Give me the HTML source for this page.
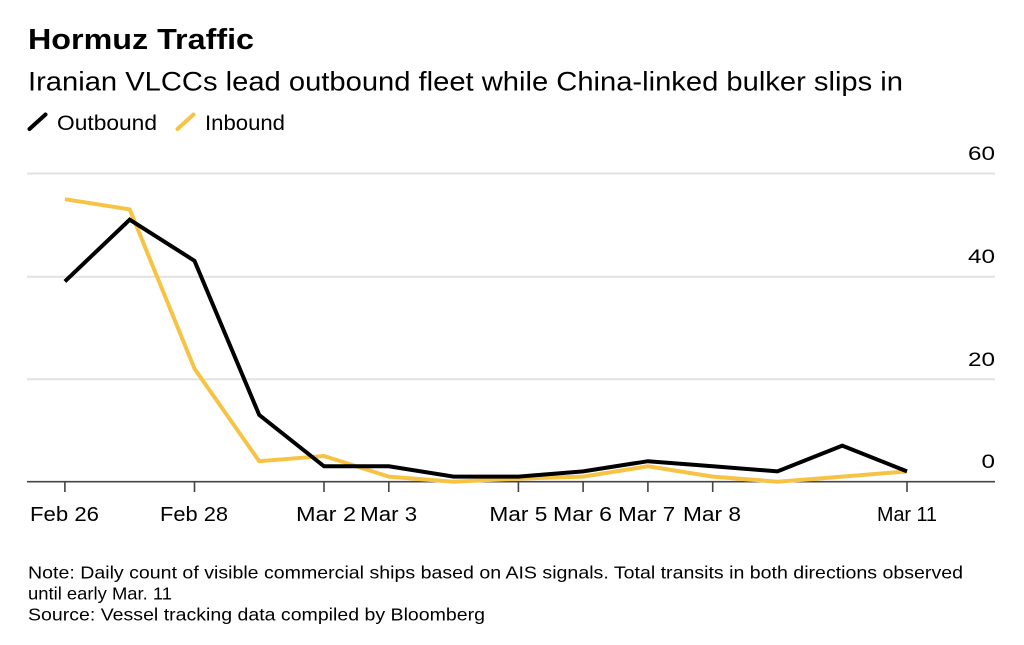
<!DOCTYPE html>
<html>
<head>
<meta charset="utf-8">
<style>
  html, body { margin: 0; padding: 0; background: #fff; }
  svg { display: block; }
  text { font-family: "Liberation Sans", "DejaVu Sans", sans-serif; fill: #000; }
</style>
</head>
<body>
<svg width="1024" height="645" viewBox="0 0 1024 645" xmlns="http://www.w3.org/2000/svg">
  <rect x="0" y="0" width="1024" height="645" fill="#fff"/>

  <!-- Title -->
  <text x="28" y="49" font-size="29" font-weight="bold" textLength="226" lengthAdjust="spacingAndGlyphs">Hormuz Traffic</text>
  <!-- Subtitle -->
  <text x="28" y="90.5" font-size="27" textLength="875" lengthAdjust="spacingAndGlyphs">Iranian VLCCs lead outbound fleet while China-linked bulker slips in</text>

  <!-- Legend -->
  <line x1="29.5" y1="129" x2="45.5" y2="114.5" stroke="#000" stroke-width="4" stroke-linecap="round"/>
  <text x="57" y="130" font-size="21" textLength="100" lengthAdjust="spacingAndGlyphs">Outbound</text>
  <line x1="177.5" y1="129" x2="193.5" y2="114.5" stroke="#f6c344" stroke-width="4" stroke-linecap="round"/>
  <text x="205" y="130" font-size="21" textLength="80" lengthAdjust="spacingAndGlyphs">Inbound</text>

  <!-- Gridlines -->
  <line x1="27" y1="173.5" x2="995" y2="173.5" stroke="#e2e2e2" stroke-width="2"/>
  <line x1="27" y1="276.7" x2="995" y2="276.7" stroke="#e2e2e2" stroke-width="2"/>
  <line x1="27" y1="379.3" x2="995" y2="379.3" stroke="#e2e2e2" stroke-width="2"/>

  <!-- Y labels -->
  <text x="995" y="160" font-size="19" text-anchor="end" textLength="27" lengthAdjust="spacingAndGlyphs">60</text>
  <text x="995" y="263" font-size="19" text-anchor="end" textLength="27" lengthAdjust="spacingAndGlyphs">40</text>
  <text x="995" y="366" font-size="19" text-anchor="end" textLength="27" lengthAdjust="spacingAndGlyphs">20</text>
  <text x="995" y="468" font-size="19" text-anchor="end" textLength="13.5" lengthAdjust="spacingAndGlyphs">0</text>

  <!-- Axis line -->
  <line x1="27" y1="481.7" x2="995" y2="481.7" stroke="#444" stroke-width="1.6"/>

  <!-- Ticks -->
  <g stroke="#444" stroke-width="1.6">
    <line x1="64.9" y1="482" x2="64.9" y2="492"/>
    <line x1="194.5" y1="482" x2="194.5" y2="492"/>
    <line x1="324.0" y1="482" x2="324.0" y2="492"/>
    <line x1="388.8" y1="482" x2="388.8" y2="492"/>
    <line x1="518.4" y1="482" x2="518.4" y2="492"/>
    <line x1="583.1" y1="482" x2="583.1" y2="492"/>
    <line x1="647.9" y1="482" x2="647.9" y2="492"/>
    <line x1="712.7" y1="482" x2="712.7" y2="492"/>
    <line x1="907.0" y1="482" x2="907.0" y2="492"/>
  </g>

  <!-- X labels -->
  <g font-size="20" text-anchor="middle">
    <text x="64.5" y="521" textLength="69" lengthAdjust="spacingAndGlyphs">Feb 26</text>
    <text x="194" y="521" textLength="68" lengthAdjust="spacingAndGlyphs">Feb 28</text>
    <text x="326" y="521" textLength="60" lengthAdjust="spacingAndGlyphs">Mar 2</text>
    <text x="388.7" y="521" textLength="57" lengthAdjust="spacingAndGlyphs">Mar 3</text>
    <text x="518.4" y="521" textLength="58" lengthAdjust="spacingAndGlyphs">Mar 5</text>
    <text x="582.5" y="521" textLength="59" lengthAdjust="spacingAndGlyphs">Mar 6</text>
    <text x="646.7" y="521" textLength="57" lengthAdjust="spacingAndGlyphs">Mar 7</text>
    <text x="712" y="521" textLength="58" lengthAdjust="spacingAndGlyphs">Mar 8</text>
    <text x="907" y="521" textLength="60" lengthAdjust="spacingAndGlyphs">Mar 11</text>
  </g>

  <!-- Inbound series -->
  <polyline fill="none" stroke="#f6c344" stroke-width="4" stroke-linejoin="miter"
    points="64.9,199.2 129.7,209.4 194.5,368.7 259.2,461.2 324.0,456.0 388.8,476.6 453.6,481.7 518.4,478.6 583.1,476.6 647.9,466.3 712.7,476.6 777.5,481.7 842.3,476.6 907.0,471.4"/>

  <!-- Outbound series -->
  <polyline fill="none" stroke="#000" stroke-width="4" stroke-linejoin="miter"
    points="64.9,281.4 129.7,219.7 194.5,260.8 259.2,414.9 324.0,466.3 388.8,466.3 453.6,476.6 518.4,476.6 583.1,471.4 647.9,461.2 712.7,466.3 777.5,471.4 842.3,445.7 907.0,471.4"/>

  <!-- Notes -->
  <text x="28" y="578.5" font-size="17.5" textLength="935" lengthAdjust="spacingAndGlyphs">Note: Daily count of visible commercial ships based on AIS signals. Total transits in both directions observed</text>
  <text x="28" y="599.5" font-size="17.5" textLength="144" lengthAdjust="spacingAndGlyphs">until early Mar. 11</text>
  <text x="28" y="620.5" font-size="17.5" textLength="457" lengthAdjust="spacingAndGlyphs">Source: Vessel tracking data compiled by Bloomberg</text>
</svg>
</body>
</html>
